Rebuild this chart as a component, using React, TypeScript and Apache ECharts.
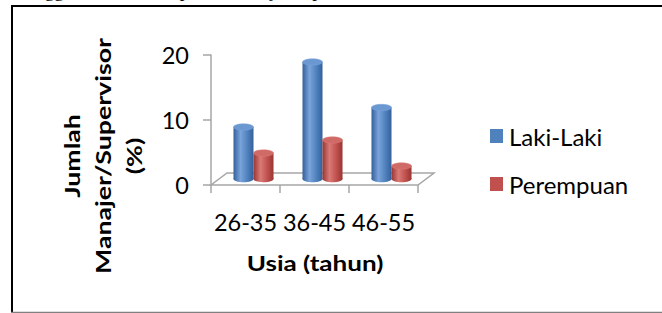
import React, { useEffect, useRef } from "react";
import * as echarts from "echarts";

const categories = ["26-35", "36-45", "46-55"];
const lakiLaki = [8, 18, 11];
const perempuan = [4, 6, 2];
const yMin = 0;
const yMax = 20;
const yInterval = 10;
const seriesNames = ["Laki-Laki", "Perempuan"];
const topLine = "menggambarkan data posisi manajer/supervisor";
const yTitle = "Jumlah\nManajer/Supervisor\n(%)";
const xTitle = "Usia (tahun)";

const DEPTH_X = 16;
const DEPTH_Y = -12;
const FONT = "Lato, 'Open Sans', sans-serif";

type Pal = { base: string; dark: string; light: string; top: string };
const bluePal: Pal = { base: "#4F81BD", dark: "#34609A", light: "#79A3DA", top: "#6C98D2" };
const redPal: Pal = { base: "#C0504D", dark: "#983532", light: "#DA7A77", top: "#D06A67" };

function cylinder(side: number, pal: Pal) {
  return (params: any, api: any) => {
    const idx = api.value(0);
    const v = api.value(1);
    const base = api.coord([idx, 0]);
    const top = api.coord([idx, v]);
    const band = api.size([1, 0])[0];
    const w = band * 0.29;
    const cx0 = base[0] + DEPTH_X / 2;
    const x = side < 0 ? cx0 - w : cx0;
    const y0 = base[1] + DEPTH_Y / 2;
    const y1 = top[1] + DEPTH_Y / 2;
    const ry = w * 0.16;
    const grad = new echarts.graphic.LinearGradient(0, 0, 1, 0, [
      { offset: 0, color: pal.dark },
      { offset: 0.35, color: pal.light },
      { offset: 0.7, color: pal.base },
      { offset: 1, color: pal.dark },
    ]);
    return {
      type: "group",
      children: [
        { type: "ellipse", shape: { cx: x + w / 2, cy: y0, rx: w / 2, ry }, style: { fill: grad } },
        { type: "rect", shape: { x, y: y1, width: w, height: Math.max(0, y0 - y1) }, style: { fill: grad } },
        {
          type: "ellipse",
          shape: { cx: x + w / 2, cy: y1, rx: w / 2, ry },
          style: { fill: pal.top, stroke: pal.light, lineWidth: 0.5 },
        },
      ],
    };
  };
}

function floor(params: any, api: any) {
  const cs = params.coordSys;
  const x0 = cs.x;
  const x1 = cs.x + cs.width;
  const y = cs.y + cs.height;
  return {
    type: "polygon",
    shape: {
      points: [
        [x0, y],
        [x1, y],
        [x1 + DEPTH_X, y + DEPTH_Y],
        [x0 + DEPTH_X, y + DEPTH_Y],
      ],
    },
    style: { fill: "#ffffff", stroke: "#A6A6A6", lineWidth: 1.5 },
  };
}

export default function App() {
  const ref = useRef<HTMLDivElement>(null);
  useEffect(() => {
    if (!ref.current) return;
    const chart = echarts.init(ref.current, null, { renderer: "svg" });
    chart.setOption({
      animation: false,
      backgroundColor: "#ffffff",
      grid: { left: 211, top: 55, width: 207, height: 130, containLabel: false },
      legend: {
        data: seriesNames,
        orient: "vertical",
        left: 490,
        top: 124,
        padding: 0,
        icon: "rect",
        itemWidth: 13,
        itemHeight: 14,
        itemGap: 24,
        textStyle: { fontFamily: FONT, fontSize: 24, color: "#000", padding: [0, 0, 0, 1] },
      },
      xAxis: {
        type: "category",
        data: categories,
        boundaryGap: true,
        axisLine: { show: false },
        axisTick: { show: true, length: 8, alignWithLabel: false, lineStyle: { color: "#A6A6A6", width: 1.5 } },
        axisLabel: { interval: 0, margin: 25, fontFamily: FONT, fontSize: 23.5, color: "#000" },
        splitLine: { show: false },
      },
      yAxis: {
        type: "value",
        min: yMin,
        max: yMax,
        interval: yInterval,
        axisLine: { show: true, lineStyle: { color: "#A6A6A6", width: 1.5 } },
        axisTick: { show: true, length: 8, lineStyle: { color: "#A6A6A6", width: 1.5 } },
        axisLabel: { margin: 22, fontFamily: FONT, fontSize: 23.5, color: "#000" },
        splitLine: { show: false },
      },
      graphic: [
        {
          type: "text",
          x: 12,
          y: 0,
          style: {
            text: topLine,
            font: "19px 'Liberation Serif', 'Times New Roman', serif",
            fill: "#000",
            verticalAlign: "bottom",
            align: "left",
          },
        },
        { type: "line", shape: { x1: 11, y1: 6, x2: 662, y2: 6 }, style: { stroke: "#000", lineWidth: 2 } },
        { type: "line", shape: { x1: 12, y1: 5, x2: 12, y2: 313 }, style: { stroke: "#000", lineWidth: 2 } },
        { type: "line", shape: { x1: 11, y1: 312.5, x2: 662, y2: 312.5 }, style: { stroke: "#808080", lineWidth: 1.5 } },
        {
          type: "text",
          x: 103,
          y: 156,
          rotation: Math.PI / 2,
          scaleX: 1.27,
          scaleY: 1,
          style: {
            text: yTitle,
            fontFamily: FONT,
            fontSize: 21,
            fontWeight: "bold",
            lineHeight: 31,
            fill: "#000",
            align: "center",
            verticalAlign: "middle",
          },
        },
        {
          type: "text",
          x: 315,
          y: 263,
          scaleX: 1.27,
          scaleY: 1,
          style: {
            text: xTitle,
            fontFamily: FONT,
            fontSize: 20.5,
            fontWeight: "bold",
            fill: "#000",
            align: "center",
            verticalAlign: "middle",
          },
        },
      ],
      series: [
        {
          type: "custom",
          name: "floor",
          silent: true,
          z: 1,
          renderItem: floor,
          data: [[0, 0]],
          encode: { x: 0, y: 1 },
        },
        {
          type: "custom",
          name: seriesNames[0],
          z: 3,
          itemStyle: { color: bluePal.base },
          renderItem: cylinder(-1, bluePal),
          data: categories.map((_, i) => [i, lakiLaki[i]]),
          encode: { x: 0, y: 1 },
        },
        {
          type: "custom",
          name: seriesNames[1],
          z: 4,
          itemStyle: { color: redPal.base },
          renderItem: cylinder(1, redPal),
          data: categories.map((_, i) => [i, perempuan[i]]),
          encode: { x: 0, y: 1 },
        },
      ],
    });
    return () => chart.dispose();
  }, []);
  return (
    <div
      ref={ref}
      style={{ position: "absolute", left: 0, top: 0, width: 662, height: 313 }}
    />
  );
}
